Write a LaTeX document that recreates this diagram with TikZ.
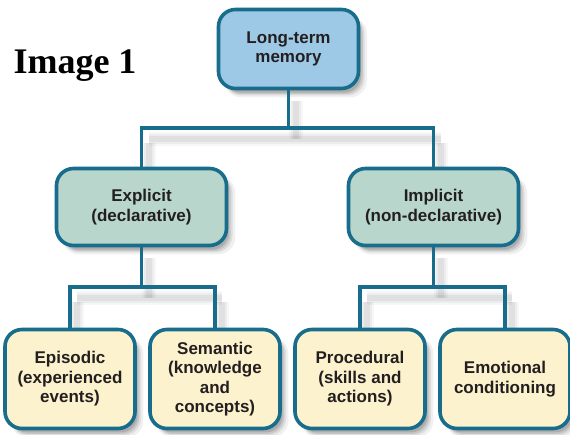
\documentclass[tikz,border=0pt]{standalone}
\usepackage{fontspec}
\setmainfont{Liberation Sans}
\newfontfamily\titlefont{Liberation Serif}
\usetikzlibrary{shadows}
\definecolor{edgeblue}{RGB}{24,108,140}
\definecolor{topfill}{RGB}{158,201,230}
\definecolor{midfill}{RGB}{184,214,204}
\definecolor{botfill}{RGB}{253,242,206}
\definecolor{txt}{RGB}{35,31,32}
\tikzset{
  memnode/.style={draw=edgeblue, line width=3.6pt, rounded corners=17pt, inner sep=0pt,
    align=center, text=txt, font=\fontsize{17}{19.5}\selectfont\bfseries,
    general shadow={shadow xshift=7pt, shadow yshift=-8pt, shadow scale=1.02, opacity=0.06, fill=black},
    general shadow={shadow xshift=6pt, shadow yshift=-7pt, opacity=0.08, fill=black},
    general shadow={shadow xshift=5pt, shadow yshift=-6pt, shadow scale=0.99, opacity=0.10, fill=black},
    general shadow={shadow xshift=4pt, shadow yshift=-5pt, shadow scale=0.98, opacity=0.12, fill=black}},
  topbox/.style={memnode, fill=topfill, minimum width=140pt, minimum height=79pt},
  midbox/.style={memnode, fill=midfill, minimum width=170pt, minimum height=77pt},
  botbox/.style={memnode, fill=botfill, minimum width=130pt, minimum height=99pt},
  link/.style={draw=edgeblue, line width=3.4pt},
  lsA/.style={draw=black, line width=14pt, opacity=0.03},
  lsB/.style={draw=black, line width=10pt, opacity=0.04},
  lsC/.style={draw=black, line width=6pt, opacity=0.05}
}
\newcommand{\shadowseg}[2]{%
  \draw[lsA] #1 -- #2; \draw[lsB] #1 -- #2; \draw[lsC] #1 -- #2;}
\begin{document}
\begin{tikzpicture}[x=1pt,y=-1pt]
\useasboundingbox[fill=white] (0,0) rectangle (570,435);
% junction coordinates
\coordinate (j1) at (288.5,128);
\coordinate (j2) at (141.5,287);
\coordinate (j3) at (433.5,287);
% soft connector shadows
\begin{scope}[shift={(7,11)}]
  \shadowseg{(288.5,90)}{(288.5,128)}
  \shadowseg{(141.5,128)}{(433.5,128)}
  \shadowseg{(141.5,132)}{(141.5,165)}
  \shadowseg{(433.5,132)}{(433.5,165)}
  \shadowseg{(141.5,247)}{(141.5,287)}
  \shadowseg{(433.5,247)}{(433.5,287)}
  \shadowseg{(70,287)}{(215,287)}
  \shadowseg{(360,287)}{(505,287)}
  \shadowseg{(70,291)}{(70,325)}
  \shadowseg{(215,291)}{(215,325)}
  \shadowseg{(360,291)}{(360,325)}
  \shadowseg{(505,291)}{(505,325)}
\end{scope}
% title
\node[font=\titlefont\fontsize{36}{40}\selectfont\bfseries, text=black, anchor=base] (title) at (75,74) {Image 1};
% nodes
\node[topbox] (ltm) at (288.5,49) {Long-term\\memory};
\node[midbox] (exp) at (141.5,207) {Explicit\\(declarative)};
\node[midbox] (imp) at (433.5,207) {Implicit\\(non-declarative)};
\node[botbox] (epi) at (70,379) {Episodic\\(experienced\\events)};
\node[botbox] (sem) at (215,379) {Semantic\\(knowledge\\and\\concepts)};
\node[botbox] (pro) at (360,379) {Procedural\\(skills and\\actions)};
\node[botbox] (emo) at (505,379) {Emotional\\conditioning};
% connectors
\draw[link] (ltm.south) -- (j1);
\draw[link] (j1) -| (exp.north);
\draw[link] (j1) -| (imp.north);
\draw[link] (exp.south) -- (j2);
\draw[link] (j2) -| (epi.north);
\draw[link] (j2) -| (sem.north);
\draw[link] (imp.south) -- (j3);
\draw[link] (j3) -| (pro.north);
\draw[link] (j3) -| (emo.north);
\end{tikzpicture}
\end{document}
